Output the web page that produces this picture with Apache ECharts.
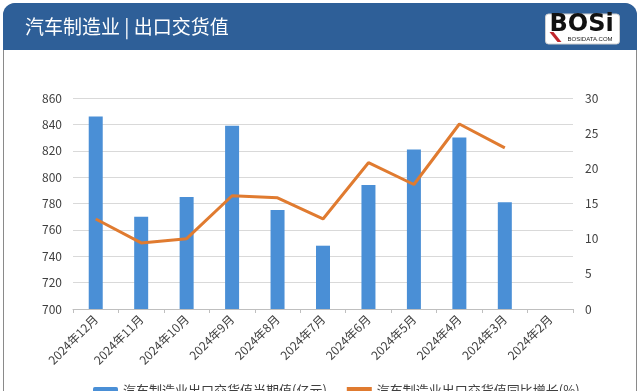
<!DOCTYPE html>
<html><head><meta charset="utf-8">
<script src="https://cdn.jsdelivr.net/npm/echarts@6/dist/echarts.min.js"></script>
<style>html,body{margin:0;padding:0;background:#fff}#c{width:640px;height:391px}</style>
</head><body><div id="c"></div>
<script>
const categories = ['2024年12月','2024年11月','2024年10月','2024年9月','2024年8月','2024年7月','2024年6月','2024年5月','2024年4月','2024年3月','2024年2月'];
const exportValue = [846, 770, 785, 839, 775, 748, 794, 821, 830, 781, null];
const growthRate = [12.8, 9.4, 10.0, 16.1, 15.8, 12.8, 20.8, 17.7, 26.3, 22.9, null];
const leftTicks = {min: 700, max: 860, interval: 20};
const rightTicks = {min: 0, max: 30, interval: 5};
const titleText = '汽车制造业 | 出口交货值';
const seriesNames = ['汽车制造业出口交货值当期值(亿元)', '汽车制造业出口交货值同比增长(%)'];

const FONT = '"Noto Sans CJK SC", "Noto Sans", sans-serif';
const chart = echarts.init(document.getElementById('c'), null, {renderer: 'canvas'});
chart.setOption({
  animation: false,
  backgroundColor: '#ffffff',
  textStyle: {fontFamily: FONT},
  graphic: [
    {type: 'rect', z: -10, silent: true, shape: {x: 3.5, y: 3.5, width: 633, height: 400, r: [12, 12, 0, 0]},
      style: {fill: '#ffffff', stroke: '#8a8a8a', lineWidth: 1}},
    {type: 'rect', z: -5, silent: true, shape: {x: 3, y: 3, width: 634, height: 47, r: [12, 12, 0, 0]},
      style: {fill: '#2e5f98'}},
    {type: 'text', left: 25, top: 17, z: 5, style: {text: titleText, fill: '#ffffff', font: '19px ' + FONT}},
    {type: 'group', left: 545, top: 13, z: 5, children: [
      {type: 'rect', shape: {x: 0, y: 0, width: 74, height: 30, r: 3}, style: {fill: '#ffffff', stroke: '#d0d0d0', lineWidth: 1}},
      {type: 'text', style: {x: 4, y: -1, text: 'BOSi', fill: '#111111', font: 'bold 24px "DejaVu Sans", sans-serif'}},
      {type: 'text', style: {x: 22, y: 22, text: 'BOSIDATA.COM', fill: '#222222', font: '6px "Liberation Sans", sans-serif'}},
      {type: 'polygon', shape: {points: [[4, 18], [8, 18], [16, 28], [12, 28]]}, style: {fill: '#c0272d'}}
    ]}
  ],
  grid: {left: 73, right: 67, top: 98, bottom: 82, containLabel: false},
  legend: {
    top: 379, left: 88, itemGap: 20, itemWidth: 25, itemHeight: 7,
    textStyle: {fontSize: 13, color: '#404040', fontFamily: FONT},
    data: [seriesNames[0], {name: seriesNames[1], icon: 'rect', itemStyle: {color: '#e07b30'}}]
  },
  xAxis: {
    type: 'category', data: categories,
    axisLine: {lineStyle: {color: '#bfbfbf'}},
    axisTick: {show: true, lineStyle: {color: '#bfbfbf'}, length: 4},
    axisLabel: {rotate: 45, fontSize: 12, color: '#404040', interval: 0, margin: 8, fontFamily: FONT}
  },
  yAxis: [
    {type: 'value', min: leftTicks.min, max: leftTicks.max, interval: leftTicks.interval,
      axisLine: {show: false}, axisTick: {show: false},
      axisLabel: {fontSize: 12, color: '#404040', margin: 11, fontFamily: FONT},
      splitLine: {lineStyle: {color: '#d9d9d9'}}},
    {type: 'value', min: rightTicks.min, max: rightTicks.max, interval: rightTicks.interval,
      axisLine: {show: false}, axisTick: {show: false},
      axisLabel: {fontSize: 12, color: '#404040', margin: 12, fontFamily: FONT},
      splitLine: {show: false}}
  ],
  series: [
    {name: seriesNames[0], type: 'bar', yAxisIndex: 0, data: exportValue, barWidth: 14,
      itemStyle: {color: '#4a8fd6'}},
    {name: seriesNames[1], type: 'line', yAxisIndex: 1, data: growthRate, symbol: 'none',
      lineStyle: {color: '#e07b30', width: 3}, itemStyle: {color: '#e07b30'}}
  ]
});
</script></body></html>
